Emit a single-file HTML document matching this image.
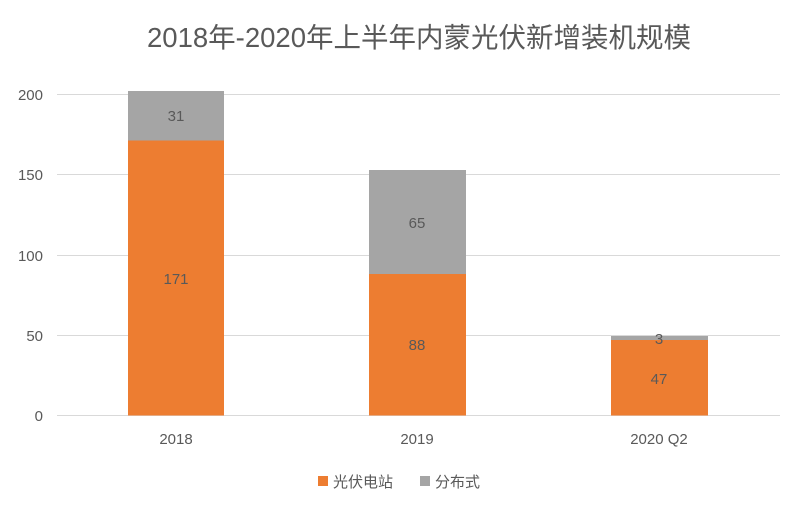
<!DOCTYPE html>
<html><head><meta charset="utf-8"><style>
body{margin:0;background:#fff;}
svg text{font-family:"Liberation Sans","Noto Sans CJK SC",sans-serif;fill:#595959;}
</style></head><body>
<svg width="803" height="511" viewBox="0 0 803 511" xmlns="http://www.w3.org/2000/svg">
<rect width="803" height="511" fill="#fff"/>
<text x="419" y="47" font-size="27.5" text-anchor="middle">2018年-2020年上半年内蒙光伏新增装机规模</text>
<g stroke="#d9d9d9" stroke-width="1">
<line x1="57" y1="94.5" x2="780" y2="94.5"/>
<line x1="57" y1="174.5" x2="780" y2="174.5"/>
<line x1="57" y1="255.5" x2="780" y2="255.5"/>
<line x1="57" y1="335.5" x2="780" y2="335.5"/>
<line x1="57" y1="415.5" x2="780" y2="415.5"/>
</g>
<g font-size="15" text-anchor="end">
<text x="43" y="100">200</text>
<text x="43" y="180">150</text>
<text x="43" y="261">100</text>
<text x="43" y="341">50</text>
<text x="43" y="421">0</text>
</g>
<rect x="128" y="140.5" width="96" height="275" fill="#ED7D31"/>
<rect x="128" y="91" width="96" height="49.5" fill="#A5A5A5"/>
<rect x="369" y="274" width="97" height="141.5" fill="#ED7D31"/>
<rect x="369" y="170" width="97" height="104" fill="#A5A5A5"/>
<rect x="611" y="340" width="97" height="75.5" fill="#ED7D31"/>
<rect x="611" y="336" width="97" height="4" fill="#A5A5A5"/>
<g font-size="15" text-anchor="middle" fill="#404040">
<text x="176" y="121">31</text>
<text x="176" y="284">171</text>
<text x="417" y="228">65</text>
<text x="417" y="350">88</text>
<text x="659" y="344">3</text>
<text x="659" y="384">47</text>
<text x="176" y="444">2018</text>
<text x="417" y="444">2019</text>
<text x="659" y="444">2020 Q2</text>
</g>
<rect x="318" y="476" width="10" height="10" fill="#ED7D31"/>
<text x="333" y="487" font-size="15">光伏电站</text>
<rect x="420" y="476" width="10" height="10" fill="#A5A5A5"/>
<text x="435" y="487" font-size="15">分布式</text>
</svg>
</body></html>
